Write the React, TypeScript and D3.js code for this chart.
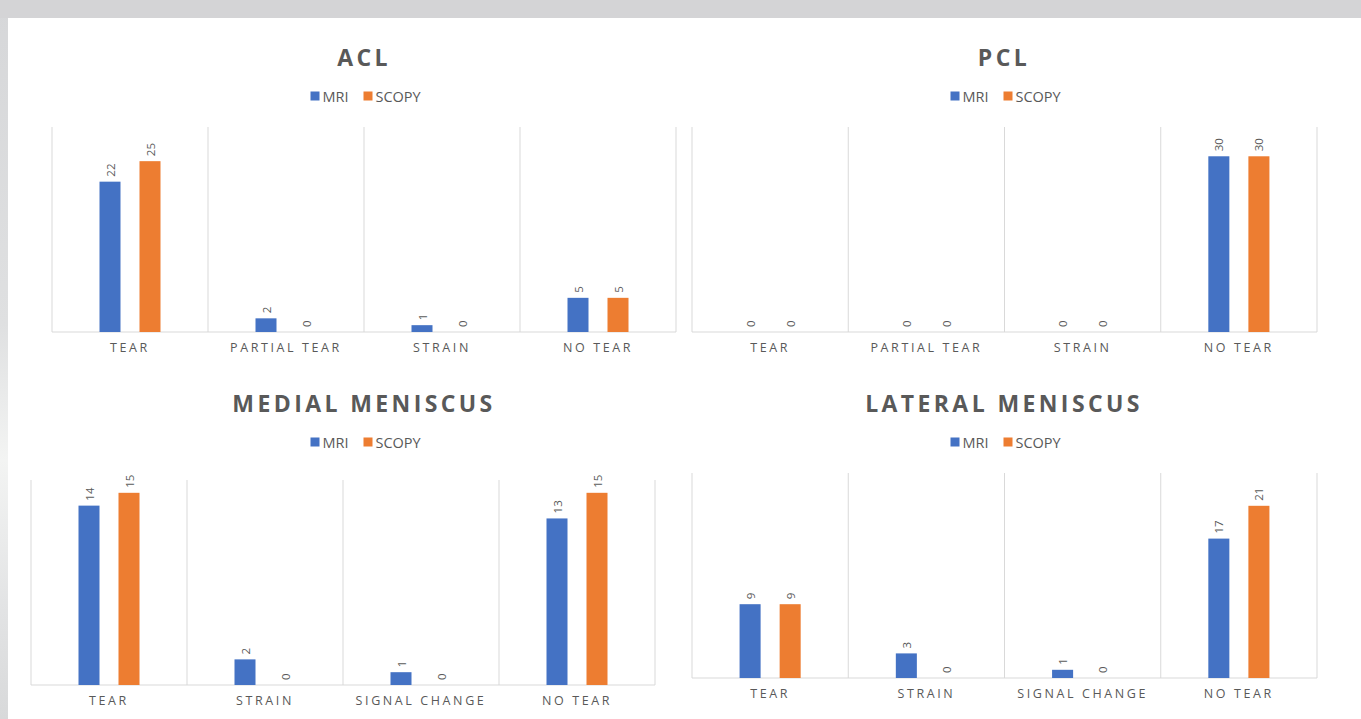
import React from "react";
import * as d3 from "d3";

const ligamentCategories = ["TEAR", "PARTIAL TEAR", "STRAIN", "NO TEAR"];
const meniscusCategories = ["TEAR", "STRAIN", "SIGNAL CHANGE", "NO TEAR"];
const seriesNames = ["MRI", "SCOPY"];
const seriesColors = ["#4472C4", "#ED7D31"];

const aclMRI = [22, 2, 1, 5];
const aclSCOPY = [25, 0, 0, 5];
const pclMRI = [0, 0, 0, 30];
const pclSCOPY = [0, 0, 0, 30];
const medialMRI = [14, 2, 1, 13];
const medialSCOPY = [15, 0, 0, 15];
const lateralMRI = [9, 3, 1, 17];
const lateralSCOPY = [9, 0, 0, 21];

const W = 1361;
const H = 719;

type Panel = {
  title: string;
  cats: string[];
  values: number[][];
  yMax: number;
  x0: number;
  x1: number;
  top: number;
  bottom: number;
  titleX: number;
  titleY: number;
  legendY: number;
};

const panels: Panel[] = [
  { title: "ACL", cats: ligamentCategories, values: [aclMRI, aclSCOPY], yMax: 30, x0: 52, x1: 676, top: 127, bottom: 332, titleX: 364, titleY: 66, legendY: 96 },
  { title: "PCL", cats: ligamentCategories, values: [pclMRI, pclSCOPY], yMax: 35, x0: 692, x1: 1317, top: 127, bottom: 332, titleX: 1004, titleY: 66, legendY: 96 },
  { title: "MEDIAL MENISCUS", cats: meniscusCategories, values: [medialMRI, medialSCOPY], yMax: 16, x0: 31, x1: 655, top: 480, bottom: 685, titleX: 364, titleY: 412, legendY: 442 },
  { title: "LATERAL MENISCUS", cats: meniscusCategories, values: [lateralMRI, lateralSCOPY], yMax: 25, x0: 692, x1: 1317, top: 473, bottom: 678, titleX: 1004, titleY: 412, legendY: 442 },
];

const FONT = "'Open Sans', 'Noto Sans', sans-serif";
const TXT = "#595959";
const GRID = "#d9d9d9";

function ChartPanel({ p }: { p: Panel }) {
  const x = d3.scaleBand<string>().domain(p.cats).range([p.x0, p.x1]).paddingInner(0).paddingOuter(0);
  const xs = d3
    .scaleBand<string>()
    .domain(seriesNames)
    .range([0, x.bandwidth()])
    .paddingInner(0.475)
    .paddingOuter(1.1875);
  const y = d3.scaleLinear().domain([0, p.yMax]).range([p.bottom, p.top]);

  const boundaries = p.cats.map((c) => x(c) as number).concat([p.x1]);

  const legendItems = [
    { name: "MRI", w: 29 },
    { name: "SCOPY", w: 46 },
  ];
  const sq = 9;
  const gapSq = 3;
  const gapItem = 12;
  const totalW = legendItems.reduce((a, it) => a + sq + gapSq + it.w, 0) + gapItem;
  let lx = p.titleX + 2 - totalW / 2;

  return (
    <g>
      <text
        x={p.titleX}
        y={p.titleY}
        textAnchor="middle"
        fontFamily={FONT}
        fontWeight={700}
        fontSize={23}
        letterSpacing={3.4}
        fill={TXT}
      >
        {p.title}
      </text>
      <g>
        {legendItems.map((it, i) => {
          const gx = lx;
          lx += sq + gapSq + it.w + gapItem;
          return (
            <g key={it.name}>
              <rect x={gx} y={p.legendY - sq / 2} width={sq} height={sq} fill={seriesColors[i]} />
              <text
                x={gx + sq + gapSq}
                y={p.legendY}
                dominantBaseline="central"
                fontFamily={FONT}
                fontSize={14.5}
                fill={TXT}
              >
                {it.name}
              </text>
            </g>
          );
        })}
      </g>
      {boundaries.map((bx, i) => (
        <line key={"g" + i} x1={bx} x2={bx} y1={p.top} y2={p.bottom} stroke={GRID} strokeWidth={1} />
      ))}
      <line x1={p.x0} x2={p.x1} y1={p.bottom} y2={p.bottom} stroke={GRID} strokeWidth={1} />
      {p.cats.map((c, ci) => (
        <g key={c}>
          {seriesNames.map((s, si) => {
            const v = p.values[si][ci];
            const bx = (x(c) as number) + (xs(s) as number);
            const cx = bx + xs.bandwidth() / 2;
            const ty = y(v) - 5;
            return (
              <g key={s}>
                {v > 0 && (
                  <rect x={bx} y={y(v)} width={xs.bandwidth()} height={p.bottom - y(v)} fill={seriesColors[si]} />
                )}
                <text
                  transform={`translate(${cx},${ty}) rotate(-90)`}
                  dominantBaseline="central"
                  textAnchor="start"
                  fontFamily={FONT}
                  fontSize={11.5}
                  fill={TXT}
                >
                  {v}
                </text>
              </g>
            );
          })}
          <text
            x={(x(c) as number) + x.bandwidth() / 2}
            y={p.bottom + 20}
            textAnchor="middle"
            fontFamily={FONT}
            fontSize={12.5}
            letterSpacing={2.6}
            fill={TXT}
          >
            {c}
          </text>
        </g>
      ))}
    </g>
  );
}

export default function App() {
  return (
    <svg
      width={W}
      height={H}
      style={{ position: "absolute", left: 0, top: 0, display: "block" }}
      xmlns="http://www.w3.org/2000/svg"
    >
      <defs>
        <linearGradient id="leftStrip" x1="0" y1="0" x2="0" y2="1">
          <stop offset="0" stopColor="#d6d7d9" />
          <stop offset="0.45" stopColor="#dfe0e1" />
          <stop offset="0.64" stopColor="#f3f4f3" />
          <stop offset="0.85" stopColor="#e2e3e4" />
          <stop offset="1" stopColor="#d8d9da" />
        </linearGradient>
      </defs>
      <rect x={0} y={0} width={W} height={H} fill="#ffffff" />
      <rect x={0} y={0} width={8} height={H} fill="url(#leftStrip)" />
      <rect x={0} y={0} width={W} height={18} fill="#d4d4d6" />
      {panels.map((p) => (
        <ChartPanel key={p.title} p={p} />
      ))}
    </svg>
  );
}
